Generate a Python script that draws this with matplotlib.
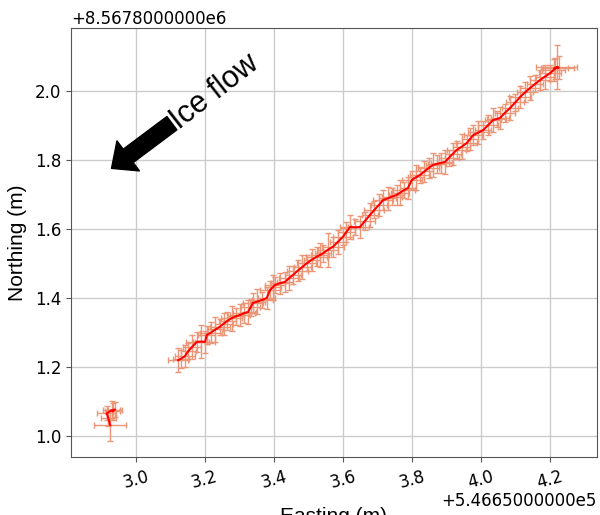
import matplotlib
matplotlib.use("Agg")
import matplotlib.pyplot as plt

#####################################################
# DATA (metres, relative to the offsets below)
#####################################################

EAST_OFFSET = "+5.4665000000e5"
NORTH_OFFSET = "+8.5678000000e6"

# main GPS track
track_east = [
    3.123, 3.131, 3.143, 3.152, 3.163, 3.177, 3.189, 3.201, 3.206, 3.218,
    3.231, 3.244, 3.255, 3.266, 3.278, 3.290, 3.302, 3.314, 3.326, 3.333,
    3.340, 3.353, 3.367, 3.380, 3.389, 3.397, 3.404, 3.418, 3.433, 3.445,
    3.456, 3.469, 3.483, 3.496, 3.510, 3.525, 3.534, 3.543, 3.557, 3.572,
    3.586, 3.601, 3.611, 3.621, 3.636, 3.650, 3.664, 3.679, 3.692, 3.705,
    3.717, 3.730, 3.743, 3.756, 3.767, 3.778, 3.789, 3.800, 3.812, 3.824,
    3.837, 3.849, 3.862, 3.874, 3.886, 3.897, 3.908, 3.919, 3.930, 3.945,
    3.959, 3.969, 3.978, 3.993, 4.007, 4.022, 4.036, 4.046, 4.056, 4.070,
    4.085, 4.100, 4.114, 4.128, 4.143, 4.158, 4.172, 4.186, 4.201, 4.211,
    4.220, 4.226, 4.214,
]
track_north = [
    1.220, 1.224, 1.232, 1.246, 1.258, 1.273, 1.274, 1.273, 1.293, 1.300,
    1.309, 1.317, 1.326, 1.334, 1.342, 1.347, 1.351, 1.356, 1.360, 1.373,
    1.386, 1.390, 1.395, 1.400, 1.423, 1.431, 1.438, 1.443, 1.447, 1.458,
    1.467, 1.479, 1.490, 1.501, 1.511, 1.520, 1.525, 1.530, 1.540, 1.549,
    1.563, 1.578, 1.592, 1.606, 1.605, 1.606, 1.623, 1.641, 1.656, 1.670,
    1.684, 1.689, 1.694, 1.699, 1.706, 1.713, 1.719, 1.742, 1.750, 1.757,
    1.767, 1.777, 1.786, 1.789, 1.792, 1.795, 1.807, 1.818, 1.829, 1.839,
    1.849, 1.861, 1.872, 1.880, 1.887, 1.902, 1.916, 1.919, 1.922, 1.937,
    1.951, 1.967, 1.983, 1.996, 2.009, 2.021, 2.032, 2.042, 2.052, 2.061,
    2.070, 2.068, 2.066,
]
track_east_err = [
    0.030, 0.024, 0.028, 0.022, 0.027, 0.030, 0.023, 0.028, 0.025, 0.031,
    0.022, 0.029, 0.026, 0.024, 0.030, 0.023, 0.028, 0.032, 0.024, 0.027,
    0.029, 0.022, 0.031, 0.025, 0.028, 0.023, 0.030, 0.026, 0.024, 0.029,
    0.022, 0.031, 0.025, 0.028, 0.023, 0.030, 0.026, 0.024, 0.029, 0.032,
    0.023, 0.028, 0.025, 0.030, 0.022, 0.026, 0.031, 0.024, 0.029, 0.023,
    0.028, 0.025, 0.030, 0.022, 0.026, 0.031, 0.024, 0.029, 0.023, 0.028,
    0.025, 0.030, 0.022, 0.026, 0.031, 0.024, 0.029, 0.023, 0.028, 0.025,
    0.030, 0.022, 0.026, 0.031, 0.024, 0.029, 0.023, 0.028, 0.025, 0.030,
    0.022, 0.026, 0.031, 0.024, 0.029, 0.023, 0.028, 0.025, 0.032, 0.034,
    0.060, 0.045, 0.038,
]
track_north_err = [
    0.034, 0.026, 0.031, 0.024, 0.035, 0.029, 0.048, 0.033, 0.025, 0.030,
    0.035, 0.023, 0.032, 0.027, 0.036, 0.024, 0.031, 0.029, 0.034, 0.025,
    0.030, 0.035, 0.023, 0.032, 0.027, 0.036, 0.024, 0.031, 0.029, 0.034,
    0.025, 0.030, 0.035, 0.023, 0.032, 0.027, 0.036, 0.024, 0.050, 0.029,
    0.034, 0.025, 0.030, 0.035, 0.023, 0.032, 0.027, 0.036, 0.024, 0.031,
    0.029, 0.034, 0.025, 0.030, 0.035, 0.023, 0.032, 0.027, 0.036, 0.024,
    0.031, 0.029, 0.034, 0.025, 0.030, 0.035, 0.023, 0.032, 0.027, 0.036,
    0.024, 0.031, 0.029, 0.034, 0.025, 0.030, 0.035, 0.023, 0.032, 0.027,
    0.036, 0.024, 0.031, 0.029, 0.034, 0.025, 0.030, 0.035, 0.023, 0.032,
    0.065, 0.034, 0.030,
]

# small cluster of early fixes
cluster_east = [2.926, 2.921, 2.916, 2.930, 2.940, 2.934]
cluster_north = [1.032, 1.051, 1.066, 1.075, 1.077, 1.072]
cluster_east_err = [0.046, 0.022, 0.028, 0.024, 0.020, 0.022]
cluster_north_err = [0.045, 0.022, 0.020, 0.027, 0.022, 0.024]

x_ticks = [3.0, 3.2, 3.4, 3.6, 3.8, 4.0, 4.2]
y_ticks = [1.0, 1.2, 1.4, 1.6, 1.8, 2.0]

#####################################################
# PLOT
#####################################################

label_font = "Liberation Sans"

fig = plt.figure(figsize=(6.0, 5.15), dpi=100)
ax = fig.add_axes([0.1183, 0.1117, 0.8767, 0.834])

for e, n, ee, ne in [
    (track_east, track_north, track_east_err, track_north_err),
    (cluster_east, cluster_north, cluster_east_err, cluster_north_err),
]:
    ax.errorbar(
        e, n, xerr=ee, yerr=ne, fmt="none", ecolor="#eb9677",
        elinewidth=1.0, capsize=2, zorder=2,
    )
    ax.plot(e, n, color="red", lw=1.5, zorder=3)

ax.set_xlim(2.8125, 4.337)
ax.set_ylim(0.938, 2.183)

ax.set_xticks(x_ticks)
ax.set_xticklabels([f"{t:.1f}" for t in x_ticks], rotation=15, fontsize=12)
ax.set_yticks(y_ticks)
ax.set_yticklabels([f"{t:.1f}" for t in y_ticks], fontsize=12)
ax.tick_params(color="#555555")
ax.grid(True, color="#cccccc", lw=1.0)
ax.set_axisbelow(True)
for sp in ax.spines.values():
    sp.set_color("#555555")

ax.set_xlabel("Easting (m)", fontsize=15, family=label_font)
ax.xaxis.set_label_coords(0.5, -0.115)
ax.set_ylabel("Northing (m)", fontsize=15, family=label_font)
ax.yaxis.set_label_coords(-0.084, 0.5)

# offset texts
ax.text(0.0, 1.021, NORTH_OFFSET, transform=ax.transAxes, fontsize=12,
        ha="left", va="center")
ax.text(1.0, -0.101, EAST_OFFSET, transform=ax.transAxes, fontsize=12,
        ha="right", va="center")

# ice flow arrow
ax.annotate(
    "", xy=(2.930, 1.776), xytext=(3.105, 1.907),
    arrowprops=dict(facecolor="black", edgecolor="black",
                    width=12, headwidth=27, headlength=15),
)
ax.text(3.230, 1.997, "Ice flow", fontsize=22, family=label_font,
        rotation=38, ha="center", va="center", rotation_mode="anchor")

fig.savefig("out.png", dpi=100)
